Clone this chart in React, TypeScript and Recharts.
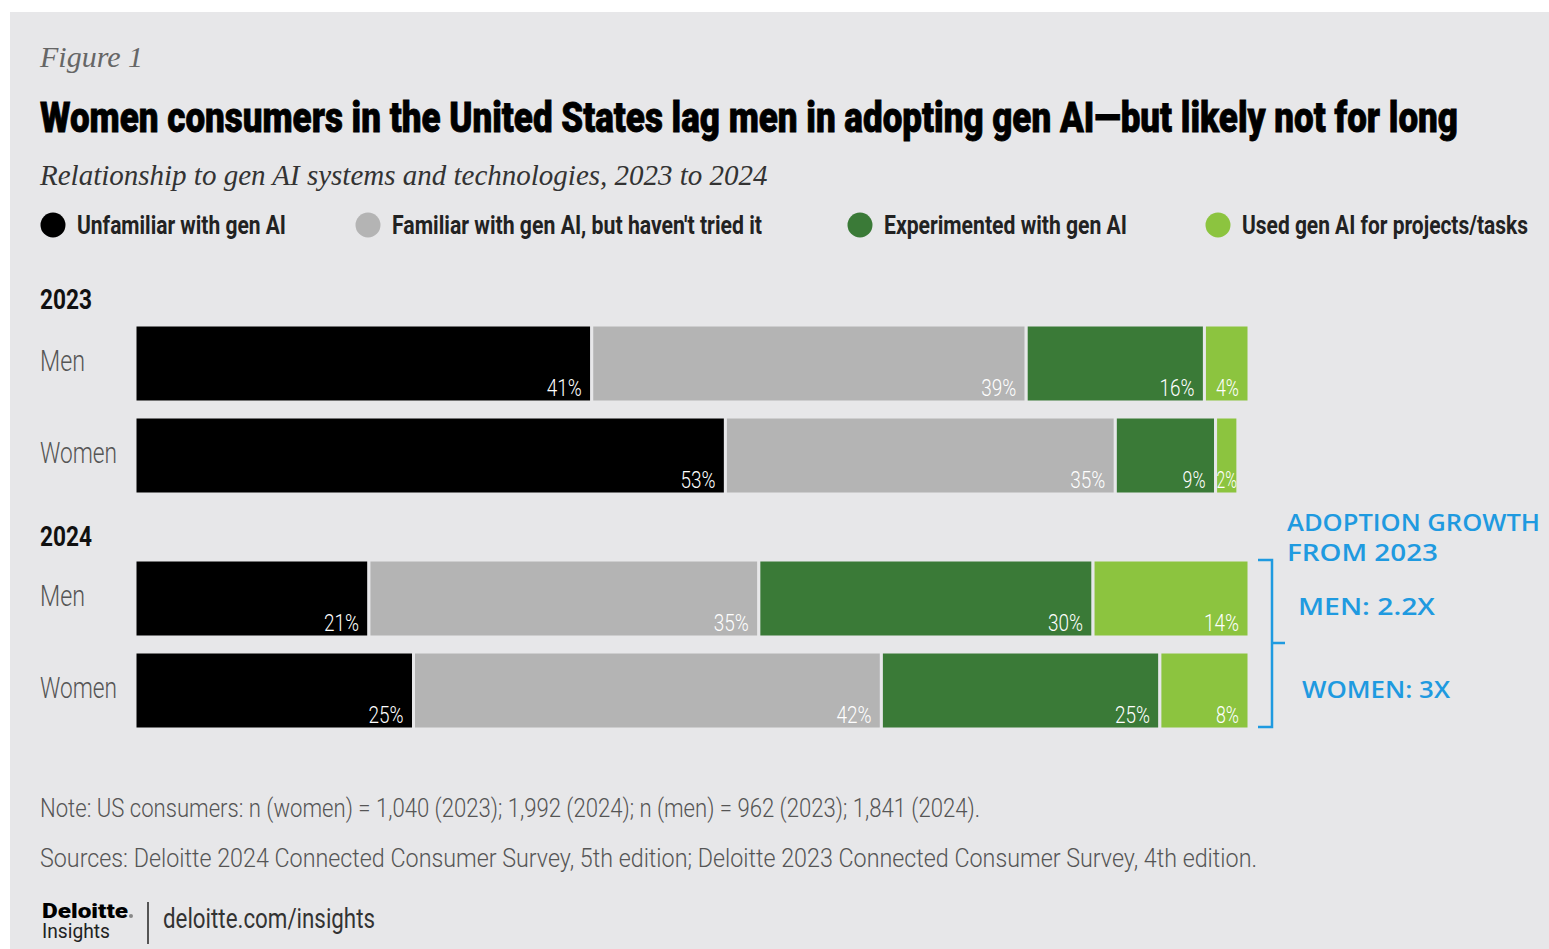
import React from 'react';
import { BarChart, Bar, XAxis, YAxis } from 'recharts';

const groups = ['Men', 'Women'];

const unfamiliar2023 = [41, 53];
const familiar2023 = [39, 35];
const experimented2023 = [16, 9];
const used2023 = [4, 2];

const unfamiliar2024 = [21, 25];
const familiar2024 = [35, 42];
const experimented2024 = [30, 25];
const used2024 = [14, 8];

const seriesNames = [
  'Unfamiliar with gen AI',
  "Familiar with gen AI, but haven't tried it",
  'Experimented with gen AI',
  'Used gen AI for projects/tasks',
];
const seriesKeys = ['unfamiliar', 'familiar', 'experimented', 'used'];

const BG = '#e7e7e9';
const SANS = 'Roboto, "Noto Sans", sans-serif';
const SERIF = '"Liberation Serif", "DejaVu Serif", serif';
const HAND = '"Open Sans", sans-serif';
const BLUE = '#1f9ae0';
const COLORS: Record<string, string> = {
  unfamiliar: '#000000',
  familiar: '#b4b4b4',
  experimented: '#3a7a37',
  used: '#8cc43f',
};

function buildRows(u: number[], f: number[], e: number[], s: number[]) {
  return groups.map((g, i) => ({
    group: g,
    unfamiliar: u[i],
    familiar: f[i],
    experimented: e[i],
    used: s[i],
  }));
}

const data2023 = buildRows(unfamiliar2023, familiar2023, experimented2023, used2023);
const data2024 = buildRows(unfamiliar2024, familiar2024, experimented2024, used2024);

// rect + value label drawn in bottom right corner of each segment
const segmentShape = (key: string) => (props: any) => {
  const { x, y, width, height, payload } = props;
  const label = `${payload[key]}%`;
  const natural = label.length === 3 ? 35 : 23;
  const fits = width - 10 >= natural + 2;
  const len = Math.min(natural, width - 2);
  return (
    <g>
      <rect x={x} y={y} width={width} height={height} fill={COLORS[key]} stroke={BG} strokeWidth={3} />
      <text
        x={fits ? x + width - 10 : x + width / 2}
        y={y + height - 6}
        textAnchor={fits ? 'end' : 'middle'}
        fill="#ffffff"
        fontSize={24}
        fontWeight={300}
        fontFamily={SANS}
        textLength={len}
        lengthAdjust="spacingAndGlyphs"
      >
        {label}
      </text>
    </g>
  );
};

const tickWidths: Record<string, number> = { Men: 45, Women: 77 };

const groupTick = (props: any) => {
  const { y, payload } = props;
  return (
    <text
      x={10}
      y={y + 8}
      textAnchor="start"
      fill="#555"
      fontSize={30}
      fontWeight={300}
      fontFamily={SANS}
      textLength={tickWidths[payload.value]}
      lengthAdjust="spacingAndGlyphs"
    >
      {payload.value}
    </text>
  );
};

function YearChart({ data, top }: { data: any[]; top: number }) {
  return (
    <div style={{ position: 'absolute', left: 30, top }}>
      <BarChart
        width={1219}
        height={184}
        data={data}
        layout="vertical"
        margin={{ top: 0, right: 0, bottom: 0, left: 0 }}
        barSize={77}
      >
        <XAxis type="number" domain={[0, 100]} hide />
        <YAxis type="category" dataKey="group" width={105} axisLine={false} tickLine={false} tick={groupTick} />
        {seriesKeys.map((k) => (
          <Bar key={k} dataKey={k} stackId="a" fill={COLORS[k]} shape={segmentShape(k)} isAnimationActive={false} />
        ))}
      </BarChart>
    </div>
  );
}

// svg text squeezed to the width it has in the reference
function T({
  x,
  y,
  w,
  size,
  weight = 400,
  fill = '#000',
  family = SANS,
  children,
  extra = {},
}: {
  x: number;
  y: number;
  w: number;
  size: number;
  weight?: number;
  fill?: string;
  family?: string;
  children: React.ReactNode;
  extra?: any;
}) {
  return (
    <text
      x={x}
      y={y}
      textLength={w}
      lengthAdjust="spacingAndGlyphs"
      fontSize={size}
      fontWeight={weight}
      fill={fill}
      fontFamily={family}
      {...extra}
    >
      {children}
    </text>
  );
}

const legendCircleX = [53, 368, 860, 1218];
const legendTextX = [77, 392, 884, 1242];
const legendTextW = [209, 370, 243, 286];

export default function App() {
  return (
    <div style={{ position: 'absolute', left: 0, top: 0, width: 1549, height: 949, background: '#fff', overflow: 'hidden' }}>
      <div style={{ position: 'absolute', left: 10, top: 12, width: 1539, height: 937, background: BG }} />

      <div style={{ position: 'absolute', left: 40, top: 40, fontFamily: SERIF, fontStyle: 'italic', fontSize: 30, color: '#666', whiteSpace: 'nowrap' }}>
        Figure 1
      </div>
      <div style={{ position: 'absolute', left: 40, top: 159, fontFamily: SERIF, fontStyle: 'italic', fontSize: 29, color: '#333', whiteSpace: 'nowrap' }}>
        Relationship to gen AI systems and technologies, 2023 to 2024
      </div>

      <YearChart data={data2023} top={317} />
      <YearChart data={data2024} top={552} />

      <svg style={{ position: 'absolute', left: 0, top: 0 }} width={1549} height={949}>
        <T x={40} y={132} w={1418} size={43} weight={900} extra={{ stroke: '#000', strokeWidth: 0.8 }}>
          Women consumers in the United States lag men in adopting gen AI—but likely not for long
        </T>

        {seriesNames.map((name, i) => (
          <g key={name}>
            <circle cx={legendCircleX[i]} cy={225} r={12.5} fill={COLORS[seriesKeys[i]]} />
            <T x={legendTextX[i]} y={234} w={legendTextW[i]} size={26} weight={700} fill="#222">
              {name}
            </T>
          </g>
        ))}

        <T x={40} y={309} w={52} size={27} weight={700} fill="#111">2023</T>
        <T x={40} y={546} w={52} size={27} weight={700} fill="#111">2024</T>

        {/* hand-drawn annotation */}
        <path
          d="M1258 560 L1272 560 L1272 727 L1258 727 M1272 643 L1285 643"
          stroke={BLUE}
          strokeWidth={2.5}
          fill="none"
        />
        <T x={1287} y={531} w={253} size={23} weight={600} fill={BLUE} family={HAND}>ADOPTION GROWTH</T>
        <T x={1287} y={561} w={151} size={23} weight={600} fill={BLUE} family={HAND}>FROM 2023</T>
        <T x={1298} y={615} w={137} size={23} weight={600} fill={BLUE} family={HAND}>MEN: 2.2X</T>
        <T x={1302} y={698} w={148} size={23} weight={600} fill={BLUE} family={HAND}>WOMEN: 3X</T>

        <T x={40} y={817} w={940} size={26} weight={300} fill="#555">
          Note: US consumers: n (women) = 1,040 (2023); 1,992 (2024); n (men) = 962 (2023); 1,841 (2024).
        </T>
        <T x={40} y={867} w={1217} size={26} weight={300} fill="#555">
          Sources: Deloitte 2024 Connected Consumer Survey, 5th edition; Deloitte 2023 Connected Consumer Survey, 4th edition.
        </T>

        <T x={42} y={918} w={86} size={21} weight={900} fill="#000">Deloitte</T>
        <circle cx={131} cy={916} r={2} fill="#888" />
        <T x={42} y={938} w={68} size={20} weight={400} fill="#222">Insights</T>
        <rect x={147} y={902} width={2} height={42} fill="#555" />
        <T x={163} y={928} w={212} size={27} weight={400} fill="#333">deloitte.com/insights</T>
      </svg>
    </div>
  );
}
